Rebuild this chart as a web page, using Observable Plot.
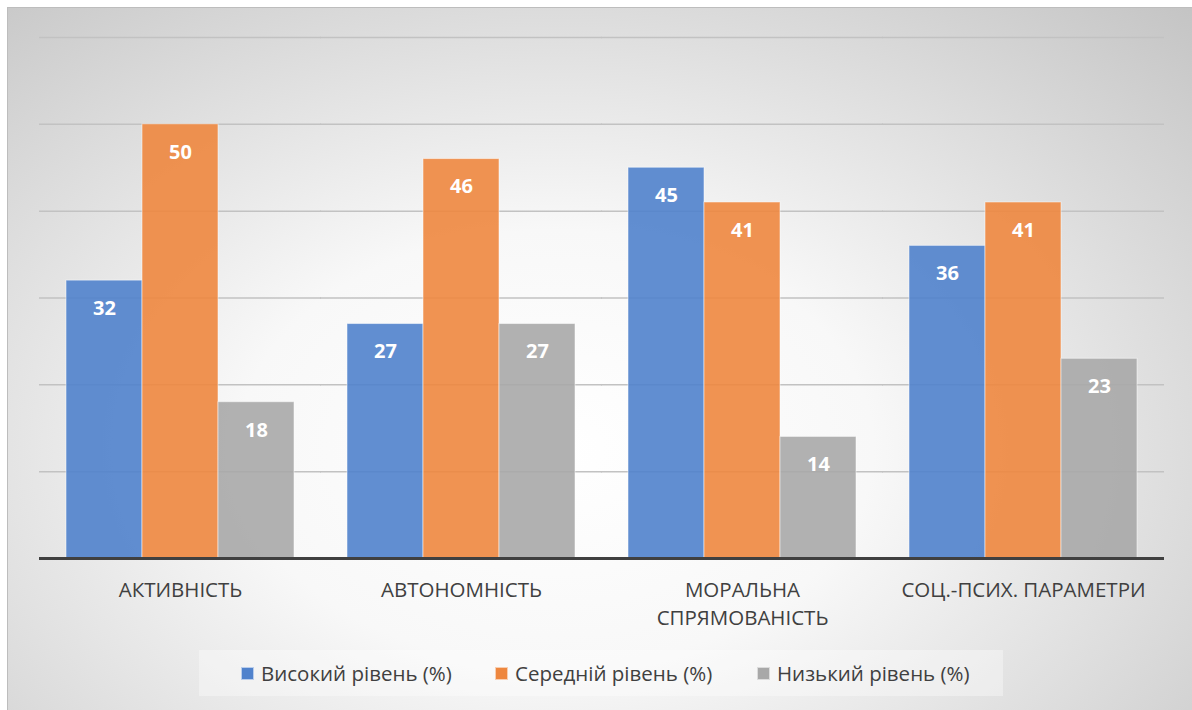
<!DOCTYPE html>
<html><head><meta charset="utf-8">
<script src="https://cdn.jsdelivr.net/npm/d3@7"></script>
<script src="https://cdn.jsdelivr.net/npm/@observablehq/plot@0.6"></script>
<style>
html,body{margin:0;padding:0;background:#fff;overflow:hidden;width:1192px;height:710px;}
#chart{position:absolute;left:7px;top:7px;width:1190px;height:710px;border-left:1px solid #bdbdbd;border-top:1px solid #bdbdbd;
  background:radial-gradient(ellipse farthest-corner at 46% 62%, #ffffff 0%, #f8f8f8 35%, #c4c4c4 100%);}
#plot{position:absolute;left:0;top:0;}
#legend{position:absolute;left:191px;top:642px;width:804px;height:46px;background:rgba(255,255,255,0.35);
  display:flex;align-items:center;padding-left:42px;box-sizing:border-box;font-family:"Open Sans",sans-serif;font-size:20.5px;color:#404040;white-space:nowrap;}
.item{display:flex;align-items:center;flex-shrink:0;white-space:nowrap;}
.sw{width:13px;height:13px;margin-right:7px;border:0.5px solid rgba(255,255,255,0.6);box-sizing:border-box;flex-shrink:0;}
</style></head>
<body>
<div id="chart"><div id="plot"></div><div id="legend"></div></div>
<script>
const categories = ["АКТИВНІСТЬ", "АВТОНОМНІСТЬ", "МОРАЛЬНА СПРЯМОВАНІСТЬ", "СОЦ.-ПСИХ. ПАРАМЕТРИ"];
const categoryLabels = ["АКТИВНІСТЬ", "АВТОНОМНІСТЬ", "МОРАЛЬНА\nСПРЯМОВАНІСТЬ", "СОЦ.-ПСИХ. ПАРАМЕТРИ"];
const series = ["Високий рівень (%)", "Середній рівень (%)", "Низький рівень (%)"];
const high = [32, 27, 45, 36];
const medium = [50, 46, 41, 41];
const low = [18, 27, 14, 23];
const colors = ["#5082cc", "#ee873f", "#a8a8a8"];
const gridTicks = [10, 20, 30, 40, 50, 60];

const values = [high, medium, low];
const data = [];
categories.forEach((c, i) => series.forEach((s, j) => data.push({category: c, series: s, value: values[j][i]})));
const labelOf = new Map(categories.map((c, i) => [c, categoryLabels[i]]));

const chart = Plot.plot({
  width: 1184, height: 620,
  marginLeft: 30, marginRight: 27, marginTop: 29, marginBottom: 70,
  style: {background: "transparent", fontFamily: "'Open Sans', sans-serif", overflow: "visible"},
  fx: {domain: categories, paddingInner: 0.18, paddingOuter: 0.09, axis: null},
  x: {domain: series, padding: 0, axis: null},
  y: {domain: [0, 60], axis: null},
  color: {domain: series, range: colors},
  marks: [
    Plot.ruleY(gridTicks, {stroke: "#c2c2c2", strokeWidth: 1.5, insetLeft: -26, insetRight: -26}),
    Plot.barY(data, {fx: "category", x: "series", y: "value", fill: "series", fillOpacity: 0.9, stroke: "white", strokeOpacity: 0.5, strokeWidth: 1}),
    Plot.ruleY([0], {stroke: "#404040", strokeWidth: 3, insetLeft: -26, insetRight: -26}),
    Plot.text(data, {fx: "category", x: "series", y: "value", text: d => String(d.value), dy: 28, fill: "white", fontWeight: "bold", fontSize: 20}),
    Plot.text(categories, {fx: d => d, text: d => labelOf.get(d), frameAnchor: "bottom", dy: 19, lineAnchor: "top", lineHeight: 1.35, fontSize: 20.5, fill: "#404040"})
  ]
});
document.getElementById("plot").appendChild(chart);

const legend = document.getElementById("legend");
const widths = [254, 262, 240];
series.forEach((s, i) => {
  const it = document.createElement("div");
  it.className = "item";
  it.style.width = widths[i] + "px";
  it.innerHTML = `<span class="sw" style="background:${colors[i]}"></span><span>${s}</span>`;
  legend.appendChild(it);
});
</script>
</body></html>
